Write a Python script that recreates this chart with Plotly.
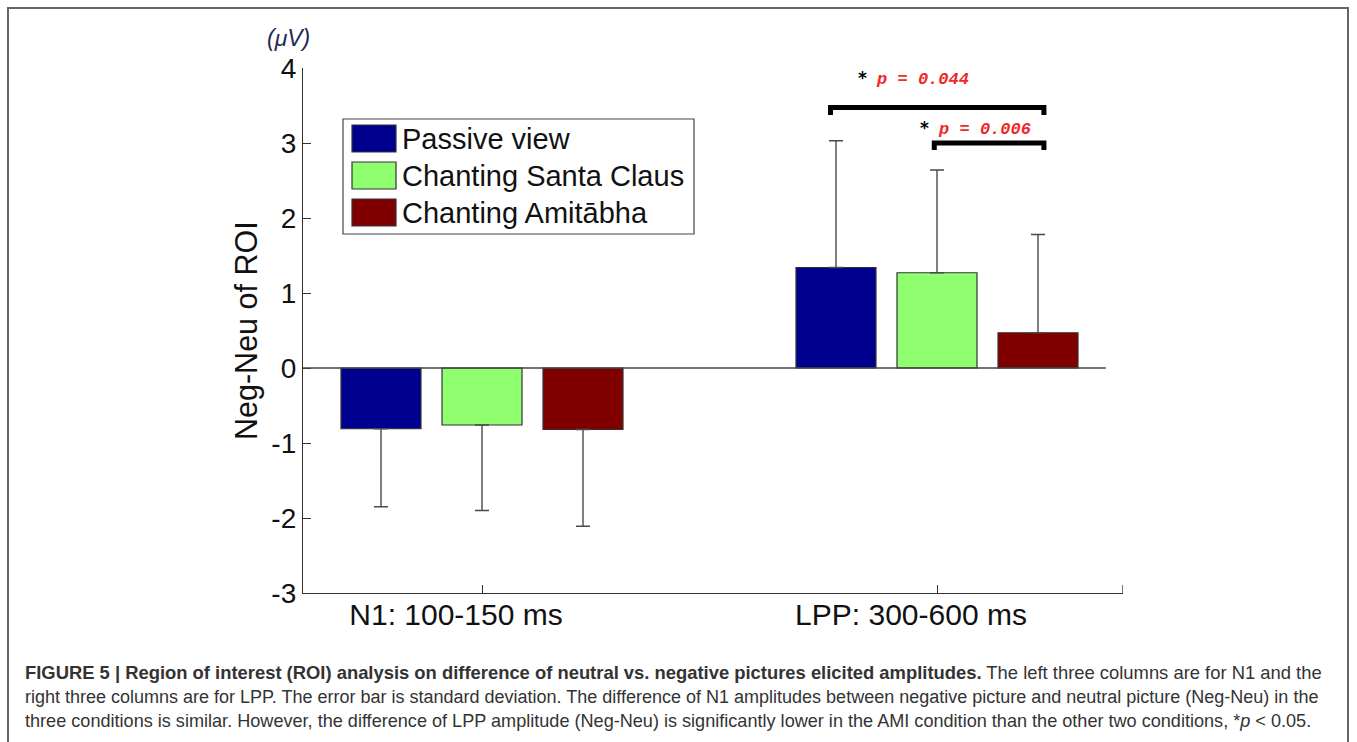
import plotly.graph_objects as go

# ---------------- data ----------------
categories = ["N1: 100-150 ms", "LPP: 300-600 ms"]
conditions = ["Passive view", "Chanting Santa Claus", "Chanting Amitābha"]
passive_mean = [-0.81, 1.34]
santa_mean = [-0.76, 1.27]
ami_mean = [-0.82, 0.47]
passive_sd = [1.04, 1.69]
santa_sd = [1.14, 1.37]
ami_sd = [1.29, 1.31]
y_ticks = [-3, -2, -1, 0, 1, 2, 3, 4]
y_tick_text = ["-3", "-2", "-1", "0", "1", "2", "3", "4"]
p_values = ["0.044", "0.006"]

colors = ["#00008F", "#8FFF70", "#800000"]
means = [passive_mean, santa_mean, ami_mean]
sds = [passive_sd, santa_sd, ami_sd]

# ---------------- layout geometry (pixels) ----------------
W, H = 1357, 742
L, R, T, B = 303, 1123, 68, 593  # plot area


def px_x(px):
    return (px - L) / (R - L)


def px_y(py):
    return (B - py) / (B - T)


fig = go.Figure()
for name, m, s, c in zip(conditions, means, sds, colors):
    up = [sd if v > 0 else 0 for v, sd in zip(m, s)]
    down = [sd if v < 0 else 0 for v, sd in zip(m, s)]
    fig.add_trace(go.Bar(
        x=categories, y=m, name=name,
        marker=dict(color=c, line=dict(color="#333333", width=1.2)),
        error_y=dict(type="data", symmetric=False, array=up, arrayminus=down,
                     color="#4a4a4a", thickness=1.4, width=7),
        showlegend=False,
    ))

xr = [-0.3934, 1.4088]
fig.update_layout(
    width=W, height=H, autosize=False,
    margin=dict(l=L, r=W - R, t=T, b=H - B, pad=0),
    paper_bgcolor="white", plot_bgcolor="white",
    barmode="group", bargap=0.334, bargroupgap=0.208,
    font=dict(family="Liberation Sans, Arial, sans-serif", color="#111111"),
    xaxis=dict(range=xr, showgrid=False, zeroline=False, showline=True,
               linecolor="#333333", linewidth=1.3, ticks="inside", ticklen=8,
               tickcolor="#333333", tickwidth=1.3,
               ticklabelshift=-26, ticklabelstandoff=-5,
               tickfont=dict(size=30, color="#111111")),
    yaxis=dict(range=[-3, 4], tickvals=y_ticks, ticktext=y_tick_text,
               showgrid=False, zeroline=False, showline=True,
               linecolor="#333333", linewidth=1.3, ticks="inside", ticklen=8,
               tickcolor="#333333", tickwidth=1.3,
               tickfont=dict(size=28, color="#111111")),
)

shapes = []
# zero line
shapes.append(dict(type="line", xref="x", yref="y", x0=xr[0], x1=1.371, y0=0, y1=0,
                   line=dict(color="#444444", width=1.5)))
# right end tick of x axis
shapes.append(dict(type="line", xref="x", yref="paper", x0=xr[1], x1=xr[1],
                   y0=0, y1=px_y(585), line=dict(color="#333333", width=1.3)))
# outer frame
shapes.append(dict(type="rect", xref="paper", yref="paper",
                   x0=px_x(8), x1=px_x(1348), y0=px_y(760), y1=px_y(8),
                   line=dict(color="#666666", width=2)))

# significance brackets
slot = (1 - 0.334) / 3
brackets = [
    (1 - slot - 0.012, 1 + slot + 0.013, 3.473, 3.373),
    (1 - 0.006, 1 + slot + 0.013, 3.0, 2.907),
]
for x0, x1, ytop, yleg in brackets:
    shapes.append(dict(type="path", xref="x", yref="y",
                       path=f"M {x0},{yleg} L {x0},{ytop} L {x1},{ytop} L {x1},{yleg}",
                       line=dict(color="black", width=5)))

# custom legend
shapes.append(dict(type="rect", xref="paper", yref="paper",
                   x0=px_x(343), x1=px_x(694), y0=px_y(234), y1=px_y(119),
                   line=dict(color="#444444", width=1.2), fillcolor="white"))
annotations = []
sw_top = [125, 162, 199]
for name, c, st in zip(conditions, colors, sw_top):
    shapes.append(dict(type="rect", xref="paper", yref="paper",
                       x0=px_x(352), x1=px_x(396), y0=px_y(st + 27), y1=px_y(st),
                       line=dict(color="#333333", width=1.2), fillcolor=c))
    annotations.append(dict(xref="paper", yref="paper", x=px_x(400), y=px_y(st + 14),
                            xanchor="left", yanchor="middle", showarrow=False,
                            text=name, font=dict(size=29, color="#111111")))

# significance labels
sig_pos = [(0.822, 3.86), (0.959, 3.195)]
for (xx, yy), p in zip(sig_pos, p_values):
    annotations.append(dict(xref="x", yref="y", x=xx, y=yy, xanchor="left",
                            yanchor="middle", showarrow=False,
                            text=("<span style='font-family:DejaVu Sans'><b>*</b></span> "
                                  f"<b><i><span style='color:#f02828'>p = {p}</span></i></b>"),
                            font=dict(family="Liberation Mono, monospace", size=17, color="black")))

# axis title and unit
annotations.append(dict(xref="paper", yref="paper", x=px_x(246), y=px_y(331),
                        xanchor="center", yanchor="middle", showarrow=False,
                        textangle=-90, text="Neg-Neu of ROI",
                        font=dict(size=30.5, color="#111111")))
annotations.append(dict(xref="paper", yref="paper", x=px_x(288), y=px_y(38),
                        xanchor="center", yanchor="middle", showarrow=False,
                        text="<i>(μV)</i>", font=dict(size=23, color="#1f2a55")))

# caption
caption_lines = [
    "<b>FIGURE 5 | Region of interest (ROI) analysis on difference of neutral vs. negative pictures elicited amplitudes.</b> The left three columns are for N1 and the",
    "right three columns are for LPP. The error bar is standard deviation. The difference of N1 amplitudes between negative picture and neutral picture (Neg-Neu) in the",
    "three conditions is similar. However, the difference of LPP amplitude (Neg-Neu) is significantly lower in the AMI condition than the other two conditions, *<i>p</i> &lt; 0.05.",
]
caption_sizes = [18.4, 18, 18.1]
for line, yy, sz in zip(caption_lines, [672, 697, 721], caption_sizes):
    annotations.append(dict(xref="paper", yref="paper", x=px_x(23), y=px_y(yy),
                            xanchor="left", yanchor="middle", showarrow=False,
                            text=line,
                            font=dict(family="Liberation Sans, Arial, sans-serif",
                                      size=sz, color="#333333")))

fig.update_layout(shapes=shapes, annotations=annotations)
fig.write_html("out.html")
